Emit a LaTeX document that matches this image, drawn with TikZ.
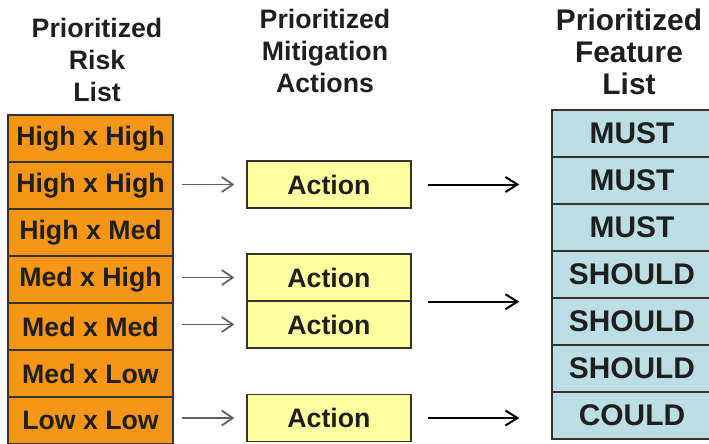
\documentclass[tikz,border=0pt]{standalone}
\usepackage{fontspec}
\setmainfont{Liberation Sans}
\usetikzlibrary{arrows.meta}
\definecolor{riskorange}{RGB}{246,150,22}
\definecolor{actionyellow}{RGB}{255,255,160}
\definecolor{featureblue}{RGB}{186,222,228}
\definecolor{boxline}{RGB}{55,50,45}
\definecolor{inkgray}{RGB}{95,95,108}
\begin{document}
\begin{tikzpicture}[x=0.02cm, y=-0.02cm,
    every node/.style={font=\bfseries\fontsize{15.2}{18.2}\selectfont, text=black!88},
    bigtext/.style={font=\bfseries\fontsize{17}{18.2}\selectfont},
    listbox/.style={draw=boxline, line width=0.8pt, minimum height=0.94cm, inner sep=0pt},
    riskbox/.style={listbox, fill=riskorange, minimum width=3.3cm},
    actionbox/.style={listbox, fill=actionyellow, minimum width=3.28cm},
    featurebox/.style={listbox, bigtext, fill=featureblue, minimum width=3.2cm},
    heading/.style={align=center},
    toaction/.style={-{Straight Barb[length=0.22cm, width=0.3cm]}, draw=inkgray, line width=0.035cm,
        shorten <=0.16cm, shorten >=0.24cm},
    tofeature/.style={-{Straight Barb[length=0.24cm, width=0.3cm]}, draw=black, line width=0.04cm,
        shorten <=0.32cm, shorten >=0.64cm}]
    \useasboundingbox (0,0) rectangle (709,443);

    % headings
    \node[heading] (hrisk) at (97,60) {Prioritized\\Risk\\List};
    \node[heading] (hact) at (325,51) {Prioritized\\Mitigation\\Actions};
    \node[heading, bigtext] (hfeat) at (629,52) {Prioritized\\Feature\\List};

    % the three columns
    \foreach \txt [count=\i] in {High x High, High x High, High x Med, Med x High, Med x Med, Med x Low, Low x Low}
        \node[riskbox] (r\i) at (90.5,{138.5+47*(\i-1)}) {\txt};
    \foreach \txt [count=\i] in {MUST, MUST, MUST, SHOULD, SHOULD, SHOULD, COULD}
        \node[featurebox] (f\i) at (632,{133.5+47*(\i-1)}) {\txt};
    \node[actionbox] (a1) at (329,184.5) {Action};
    \node[actionbox] (a2) at (329,277.5) {Action};
    \node[actionbox] (a3) at (329,324.5) {Action};
    \node[actionbox] (a4) at (329,418) {Action};

    % risks to actions
    \draw[toaction] (r2.east |- a1.west) -- (a1.west);
    \draw[toaction] (r4.east |- a2.west) -- (a2.west);
    \draw[toaction] (r5.east |- a3.west) -- (a3.west);
    \draw[toaction] (r7.east |- a4.west) -- (a4.west);

    % actions to features
    \draw[tofeature] (a1.east) -- (a1.east -| f2.west);
    \draw[tofeature] (a2.south east) -- (a2.south east -| f4.west);
    \draw[tofeature] (a4.east) -- (a4.east -| f7.west);
\end{tikzpicture}
\end{document}
